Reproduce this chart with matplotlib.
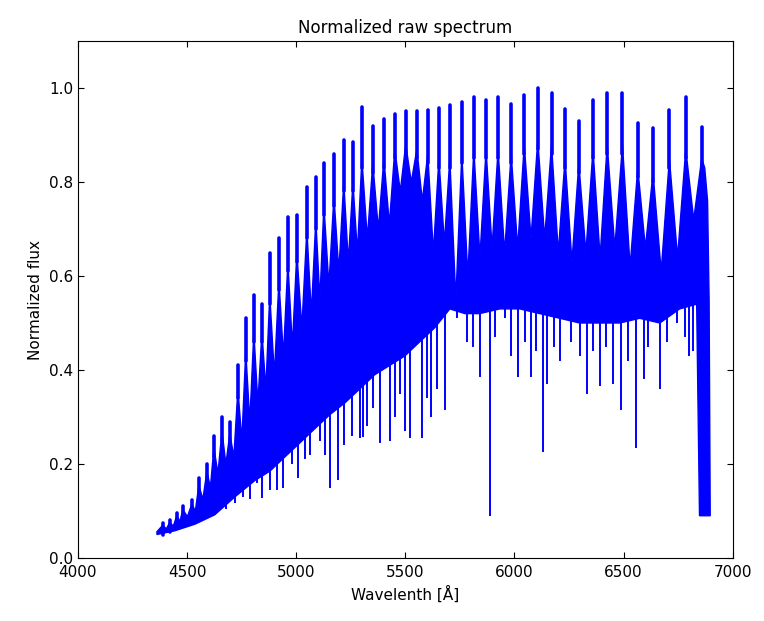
import numpy as np
import matplotlib
matplotlib.use("Agg")
import matplotlib.pyplot as plt

# Echelle orders: centre wavelength of each order, the flux at the tip of the
# blaze peak, and the level where the narrow peak widens into the order body.
order_wave = [4389, 4421, 4453, 4481, 4522, 4554, 4591, 4623, 4660, 4696,
              4733, 4769, 4806, 4843, 4879, 4921, 4962, 5003, 5049, 5090,
              5127, 5173, 5218, 5260, 5301, 5351, 5402, 5452, 5502, 5553,
              5603, 5654, 5704, 5759, 5814, 5870, 5925, 5985, 6045, 6107,
              6170, 6232, 6295, 6360, 6425, 6495, 6565, 6635, 6710, 6785,
              6858]
spike_top = [0.074, 0.080, 0.096, 0.110, 0.123, 0.170, 0.200, 0.260, 0.300, 0.290,
             0.410, 0.510, 0.560, 0.540, 0.650, 0.680, 0.725, 0.730, 0.790, 0.810,
             0.840, 0.860, 0.890, 0.885, 0.960, 0.920, 0.935, 0.945, 0.950, 0.950,
             0.953, 0.957, 0.964, 0.970, 0.980, 0.975, 0.980, 0.965, 0.985, 1.000,
             0.990, 0.955, 0.930, 0.975, 0.990, 0.990, 0.925, 0.915, 0.953, 0.980,
             0.917]
body_top = [0.070, 0.076, 0.090, 0.103, 0.115, 0.155, 0.185, 0.235, 0.270, 0.265,
            0.360, 0.440, 0.480, 0.480, 0.560, 0.590, 0.630, 0.650, 0.700, 0.720,
            0.750, 0.770, 0.800, 0.800, 0.850, 0.840, 0.850, 0.870, 0.880, 0.870,
            0.860, 0.850, 0.850, 0.860, 0.870, 0.870, 0.870, 0.860, 0.880, 0.890,
            0.880, 0.850, 0.840, 0.870, 0.880, 0.880, 0.830, 0.820, 0.850, 0.870,
            0.850]
# Upper flux level in the overlap between consecutive orders
gap_floor = [0.062, 0.068, 0.078, 0.088, 0.100, 0.125, 0.150, 0.180, 0.200, 0.215,
             0.250, 0.290, 0.330, 0.360, 0.390, 0.430, 0.450, 0.490, 0.520, 0.550,
             0.580, 0.610, 0.630, 0.650, 0.680, 0.700, 0.710, 0.780, 0.800, 0.760,
             0.650, 0.670, 0.550, 0.600, 0.640, 0.660, 0.650, 0.660, 0.680, 0.680,
             0.650, 0.630, 0.650, 0.640, 0.660, 0.620, 0.660, 0.610, 0.640, 0.720]

# Blue end of the first order and red edge of the last order
start_wave, start_flux = 4362, 0.056
red_edge_wave = [6872, 6885, 6892, 6897]
red_edge_flux = [0.830, 0.760, 0.550, 0.100]

# Lower envelope of the continuum (bottom of the densely sampled band)
lower_wave = [4362, 4444, 4536, 4627, 4719, 4811, 4880, 4948, 5017, 5085,
              5154, 5223, 5292, 5360, 5429, 5498, 5566, 5635, 5704, 5773,
              5841, 5933, 6024, 6116, 6208, 6299, 6391, 6482, 6574, 6666,
              6757, 6835, 6848, 6897]
lower_flux = [0.050, 0.058, 0.072, 0.092, 0.130, 0.165, 0.185, 0.215, 0.245, 0.275,
              0.305, 0.330, 0.360, 0.390, 0.410, 0.430, 0.460, 0.490, 0.530, 0.520,
              0.520, 0.530, 0.530, 0.520, 0.510, 0.500, 0.500, 0.500, 0.510, 0.500,
              0.530, 0.540, 0.090, 0.090]

# Absorption lines: position, line core flux, flux where the line meets the band
dip_wave = [4680, 4719, 4756, 4788, 4820, 4843, 4879, 4911, 4939, 4980,
            5008, 5040, 5063, 5108, 5130, 5154, 5191, 5220, 5255, 5292,
            5305, 5324, 5350, 5383, 5429, 5455, 5475, 5500, 5521, 5576,
            5600, 5620, 5644, 5681, 5736, 5782, 5810, 5841, 5890, 5910,
            5956, 5985, 6015, 6050, 6075, 6100, 6130, 6148, 6180, 6210,
            6260, 6300, 6331, 6360, 6391, 6420, 6450, 6487, 6520, 6556,
            6592, 6610, 6666, 6700, 6744, 6780, 6800, 6817]
dip_flux = [0.105, 0.117, 0.130, 0.125, 0.160, 0.128, 0.145, 0.145, 0.149, 0.200,
            0.170, 0.210, 0.220, 0.250, 0.220, 0.150, 0.166, 0.240, 0.260, 0.255,
            0.257, 0.280, 0.320, 0.245, 0.250, 0.300, 0.350, 0.270, 0.255, 0.255,
            0.340, 0.300, 0.360, 0.315, 0.510, 0.460, 0.450, 0.385, 0.090, 0.470,
            0.510, 0.430, 0.385, 0.460, 0.385, 0.440, 0.225, 0.370, 0.450, 0.420,
            0.460, 0.430, 0.350, 0.440, 0.365, 0.450, 0.370, 0.315, 0.420, 0.235,
            0.380, 0.450, 0.360, 0.460, 0.500, 0.470, 0.430, 0.440]
dip_top = [0.18, 0.20, 0.22, 0.24, 0.25, 0.26, 0.27, 0.28, 0.30, 0.31,
           0.32, 0.33, 0.34, 0.36, 0.37, 0.38, 0.40, 0.41, 0.42, 0.44,
           0.44, 0.45, 0.46, 0.48, 0.50, 0.51, 0.52, 0.53, 0.54, 0.56,
           0.57, 0.57, 0.58, 0.55, 0.54, 0.58, 0.58, 0.58, 0.58, 0.58,
           0.58, 0.58, 0.58, 0.58, 0.58, 0.58, 0.58, 0.58, 0.58, 0.58,
           0.58, 0.58, 0.58, 0.58, 0.58, 0.58, 0.58, 0.58, 0.58, 0.58,
           0.58, 0.58, 0.58, 0.58, 0.58, 0.58, 0.58, 0.58]

x_ticks = [4000, 4500, 5000, 5500, 6000, 6500, 7000]
y_ticks = [0.0, 0.2, 0.4, 0.6, 0.8, 1.0]

plt.rcParams.update({
    "font.family": ["DejaVu Sans"],
    "font.size": 11,
    "xtick.direction": "in",
    "ytick.direction": "in",
    "xtick.top": True,
    "ytick.right": True,
    "xtick.major.size": 4,
    "ytick.major.size": 4,
    "xtick.major.pad": 5,
})

fig = plt.figure(figsize=(7.64, 6.21), dpi=100)
ax = fig.add_axes([0.102, 0.1014, 0.857, 0.8326])

# Outline of the spectrum band: upper edge left to right, lower edge back
ow = np.asarray(order_wave, dtype=float)
gap_wave = (ow[:-1] + ow[1:]) / 2.0
up_x = [start_wave]
up_y = [start_flux]
for i in range(len(order_wave)):
    up_x.append(order_wave[i])
    up_y.append(body_top[i])
    if i < len(gap_floor):
        up_x.append(gap_wave[i])
        up_y.append(gap_floor[i])
up_x += red_edge_wave
up_y += red_edge_flux

poly_x = up_x + lower_wave[::-1]
poly_y = up_y + lower_flux[::-1]

color = "#0000ff"
ax.fill(poly_x, poly_y, facecolor=color, edgecolor=color, linewidth=1.0,
        joinstyle="miter")
ax.vlines(order_wave, np.asarray(body_top) - 0.02, spike_top, color=color,
          linewidth=2.6, capstyle="round")
ax.vlines(dip_wave, dip_flux, dip_top, color=color, linewidth=1.4)

ax.set_xlim(4000, 7000)
ax.set_ylim(0.0, 1.1)
ax.set_xticks(x_ticks)
ax.set_yticks(y_ticks)
ax.set_yticklabels([f"{v:.1f}" for v in y_ticks])
ax.set_xlabel("Wavelenth [Å]")
ax.set_ylabel("Normalized flux")
ax.set_title("Normalized raw spectrum", fontsize=12)

fig.savefig("out.png", dpi=100)
